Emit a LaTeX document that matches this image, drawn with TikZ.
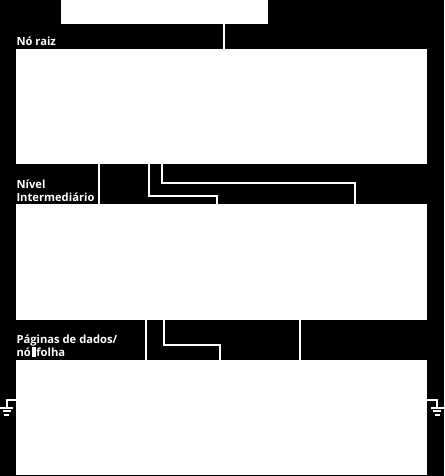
\documentclass[tikz,border=0pt]{standalone}
\usepackage{fontspec}
\setmainfont{Open Sans}
\begin{document}
\begin{tikzpicture}[x=1pt,y=-1pt,
  box/.style={fill=white,draw=none,inner sep=0pt,outer sep=0pt,anchor=north west},
  conn/.style={draw=white,line width=2pt},
  lbl/.style={text=white,inner sep=0pt,anchor=base west,font=\fontsize{11.2}{13}\selectfont\bfseries}]
\fill[black] (0,0) rectangle (444,476);
\useasboundingbox (0,0) rectangle (444,476);
% boxes
\node[box,minimum width=207pt,minimum height=24pt] (top) at (61,0) {};
\node[box,minimum width=411pt,minimum height=114.5pt] (root) at (16,49) {};
\node[box,minimum width=411pt,minimum height=116.5pt] (inter) at (16,203.5) {};
\node[box,minimum width=411pt,minimum height=114.7pt] (leaf) at (16,360) {};
% labels
\node[lbl] (l1) at (16.3,45.3) {Nó raiz};
\node[lbl] (l2a) at (16.3,188) {Nível};
\node[lbl] (l2b) at (16.3,201) {Intermediário};
\node[lbl] (l3a) at (16.3,343.3) {Páginas de dados/};
\node[lbl] (l3b) at (16.3,356.7) {nó\hspace{0.8pt}\rule{4pt}{9.4pt}\hspace{0.8pt}folha};
% connectors
\draw[conn] (224,0 |- top.south) -- (224,0 |- root.north);
\draw[conn] (98.5,0 |- root.south) -- (98.5,0 |- inter.north);
\draw[conn] (149,0 |- root.south) -- (149,196) -- (217,196) -- (217,0 |- inter.north);
\draw[conn] (162,0 |- root.south) -- (162,183) -- (355,183) -- (355,0 |- inter.north);
\draw[conn] (145.7,0 |- inter.south) -- (145.7,0 |- leaf.north);
\draw[conn] (163.7,0 |- inter.south) -- (163.7,345) -- (220,345) -- (220,0 |- leaf.north);
\draw[conn] (300,0 |- inter.south) -- (300,0 |- leaf.north);
% grounds
\coordinate (gl) at (6.7,400);
\coordinate (gr) at (437,400);
\draw[conn] (leaf.west |- gl) -- (gl) -- (6.7,407.7);
\draw[conn] (0,407.7) -- (13,407.7);
\draw[conn] (2.8,410.7) -- (10.6,410.7);
\draw[conn] (4.2,414.7) -- (9.2,414.7);
\draw[conn] (leaf.east |- gr) -- (gr) -- (437,407.7);
\draw[conn] (431,407.7) -- (444,407.7);
\draw[conn] (433.2,410.7) -- (441,410.7);
\draw[conn] (434.8,414.7) -- (439.8,414.7);
\end{tikzpicture}
\end{document}
